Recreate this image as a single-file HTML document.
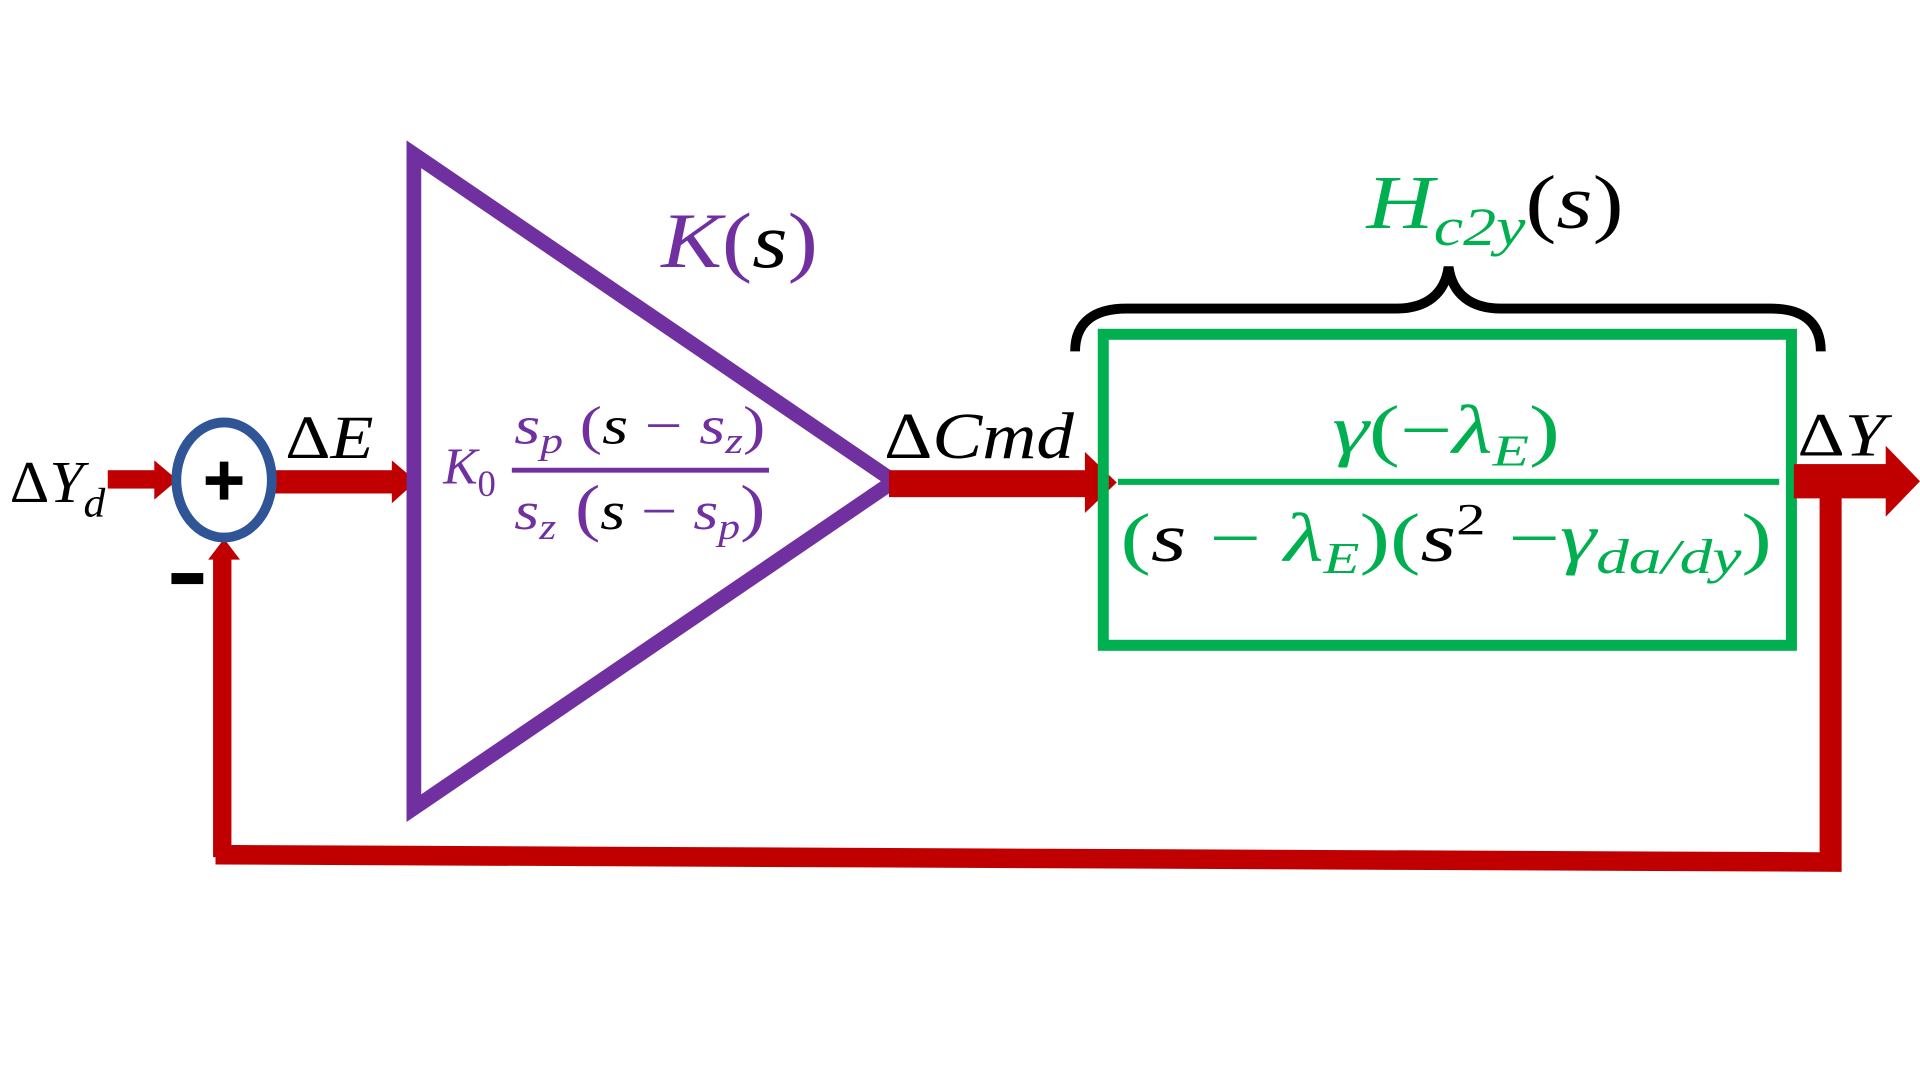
<!DOCTYPE html>
<html><head><meta charset="utf-8"><style>
html,body{margin:0;padding:0;background:#fff;}
svg{display:block;}
text{font-family:"Liberation Serif",serif;}
.i{font-style:italic;}
.n{font-style:normal;}
</style></head><body>
<svg width="1920" height="1080" viewBox="0 0 1568 882" preserveAspectRatio="none">
<rect width="1568" height="882" fill="#fff"/>
<!-- feedback path -->
<polygon points="1486,400 1504,400 1504,712 176,706 176,690 1486,696" fill="#c00000"/>
<rect x="174" y="455" width="15" height="245" fill="#c00000"/>
<polygon points="170,457 196,457 183,440" fill="#c00000"/>
<!-- input arrow -->
<rect x="88" y="384" width="40" height="15" fill="#c00000"/>
<polygon points="126,376 126,408 145,392" fill="#c00000"/>
<!-- DeltaE arrow -->
<rect x="222" y="384" width="100" height="19" fill="#c00000"/>
<polygon points="320,376 320,411 340,393" fill="#c00000"/>
<!-- triangle -->
<polygon points="338,126 338,660 730,393" fill="none" stroke="#7030a0" stroke-width="12" stroke-linejoin="miter"/>
<!-- Cmd arrow -->
<rect x="726" y="384" width="164" height="22" fill="#c00000"/>
<polygon points="886,369 886,419 912,394" fill="#c00000"/>
<!-- summing junction -->
<ellipse cx="183" cy="392" rx="39" ry="47" fill="#fff" stroke="#2f5597" stroke-width="8"/>
<rect x="168" y="389" width="30" height="7" fill="#000"/>
<rect x="179.5" y="377" width="7" height="31" fill="#000"/>
<rect x="140" y="468" width="26" height="9" fill="#000"/>
<!-- labels -->
<text x="8" y="410" font-size="48" textLength="78" lengthAdjust="spacingAndGlyphs"><tspan class="n">Δ</tspan><tspan class="i">Y</tspan><tspan class="i" font-size="34" dy="12">d</tspan></text>
<text x="233" y="374" font-size="50" textLength="72" lengthAdjust="spacingAndGlyphs"><tspan class="n">Δ</tspan><tspan class="i">E</tspan></text>
<text x="540" y="218" font-size="64" fill="#7030a0" textLength="128" lengthAdjust="spacingAndGlyphs"><tspan class="i">K</tspan><tspan class="n">(</tspan><tspan class="i" fill="#000">s</tspan><tspan class="n">)</tspan></text>
<text x="362" y="395" font-size="42" fill="#7030a0"><tspan class="i">K</tspan><tspan class="n" font-size="30" dy="10">0</tspan></text>
<rect x="418" y="382" width="210" height="4" fill="#7030a0"/>
<text x="420" y="362" font-size="44" fill="#7030a0" textLength="205" lengthAdjust="spacingAndGlyphs"><tspan class="i">s</tspan><tspan class="i" font-size="30" dy="8">p</tspan><tspan dy="-8" class="n"> (</tspan><tspan class="i" fill="#000">s</tspan><tspan class="n"> − </tspan><tspan class="i">s</tspan><tspan class="i" font-size="30" dy="8">z</tspan><tspan dy="-8" class="n">)</tspan></text>
<text x="420" y="432" font-size="44" fill="#7030a0" textLength="205" lengthAdjust="spacingAndGlyphs"><tspan class="i">s</tspan><tspan class="i" font-size="30" dy="8">z</tspan><tspan dy="-8" class="n" font-size="52"> (</tspan><tspan class="i" fill="#000">s</tspan><tspan class="n"> − </tspan><tspan class="i">s</tspan><tspan class="i" font-size="30" dy="8">p</tspan><tspan dy="-8" class="n" font-size="52">)</tspan></text>
<text x="722" y="374" font-size="54" textLength="155" lengthAdjust="spacingAndGlyphs"><tspan class="n">Δ</tspan><tspan class="i">Cmd</tspan></text>
<!-- green box -->
<rect x="901" y="273" width="562" height="254" fill="none" stroke="#00b050" stroke-width="9"/>
<rect x="913" y="391" width="540" height="5" fill="#00b050"/>
<text x="1088" y="370" font-size="56" fill="#00b050" textLength="186" lengthAdjust="spacingAndGlyphs"><tspan class="i">γ</tspan><tspan class="n">(−</tspan><tspan class="i">λ</tspan><tspan class="i" font-size="36" dy="10">E</tspan><tspan dy="-10" class="n">)</tspan></text>
<text x="915" y="458" font-size="56" fill="#00b050" textLength="532" lengthAdjust="spacingAndGlyphs"><tspan class="n">(</tspan><tspan class="i" fill="#000">s</tspan><tspan class="n"> − </tspan><tspan class="i">λ</tspan><tspan class="i" font-size="36" dy="10">E</tspan><tspan dy="-10" class="n">)(</tspan><tspan class="i" fill="#000">s</tspan><tspan fill="#000" class="n" font-size="36" dy="-22">2</tspan><tspan dy="22" class="n"> −</tspan><tspan class="i">γ</tspan><tspan class="i" font-size="40" dy="10">da/dy</tspan><tspan dy="-10" class="n">)</tspan></text>
<!-- brace -->
<path d="M878,287 C878,262 895,252 920,252 L1140,252 C1165,252 1180,240 1183,218 C1186,240 1201,252 1226,252 L1446,252 C1471,252 1487,262 1487,287" fill="none" stroke="#000" stroke-width="8"/>
<text x="1116" y="186" font-size="62" fill="#00b050" textLength="210" lengthAdjust="spacingAndGlyphs"><tspan class="i">H</tspan><tspan class="i" font-size="44" dy="14">c2y</tspan><tspan dy="-14" fill="#000" class="n">(</tspan><tspan class="i" fill="#000">s</tspan><tspan fill="#000" class="n">)</tspan></text>
<!-- output -->
<text x="1468" y="372" font-size="50" textLength="72" lengthAdjust="spacingAndGlyphs"><tspan class="n">Δ</tspan><tspan class="i">Y</tspan></text>
<rect x="1465" y="379" width="78" height="28" fill="#c00000"/>
<polygon points="1540,364 1540,422 1568,393" fill="#c00000"/>
</svg>
</body></html>
